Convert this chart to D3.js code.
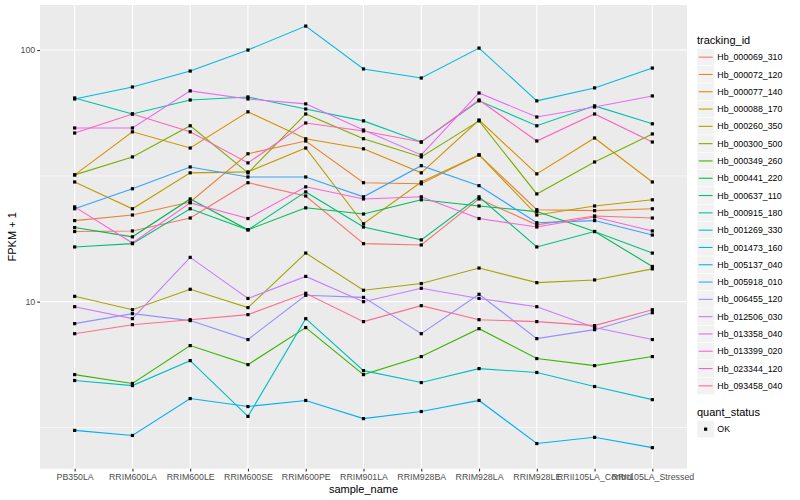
<!DOCTYPE html>
<html>
<head>
<meta charset="utf-8">
<script src="https://cdn.jsdelivr.net/npm/d3@7"></script>
<style>
  body { margin: 0; background: #fff; }
  text { font-family: "Liberation Sans", Arial, sans-serif; }
</style>
</head>
<body>
<svg id="chart" width="800" height="500"></svg>
<script>
// samples along the x axis
const samples = ["PB350LA", "RRIM600LA", "RRIM600LE", "RRIM600SE", "RRIM600PE", "RRIM901LA",
  "RRIM928BA", "RRIM928LA", "RRIM928LE", "RRII105LA_Control", "RRII105LA_Stressed"];

const trackingIds = ["Hb_000069_310", "Hb_000072_120", "Hb_000077_140", "Hb_000088_170", "Hb_000260_350",
  "Hb_000300_500", "Hb_000349_260", "Hb_000441_220", "Hb_000637_110", "Hb_000915_180",
  "Hb_001269_330", "Hb_001473_160", "Hb_005137_040", "Hb_005918_010", "Hb_006455_120",
  "Hb_012506_030", "Hb_013358_040", "Hb_013399_020", "Hb_023344_120", "Hb_093458_040"];

// FPKM + 1, one array per gene, in sample order
const hb000069_310 = [19.0, 19.1, 21.5, 29.7, 26.3, 17.0, 16.8, 25.6, 20.2, 21.9, 21.5];
const hb000072_120 = [21.0, 22.1, 24.9, 38.7, 43.5, 29.7, 29.4, 38.3, 23.2, 23.0, 23.4];
const hb000077_140 = [31.9, 47.3, 40.8, 56.8, 44.4, 40.5, 32.5, 52.7, 32.2, 44.7, 29.9];
const hb000088_170 = [29.9, 23.4, 32.5, 32.8, 40.8, 20.4, 29.9, 38.3, 22.1, 24.0, 25.4];
const hb000260_350 = [10.5, 9.29, 11.2, 9.47, 15.6, 11.1, 11.8, 13.6, 11.9, 12.2, 13.5];
const hb000300_500 = [31.9, 37.6, 50.0, 32.5, 55.7, 44.4, 37.6, 52.3, 26.8, 35.9, 46.4];
const hb000349_260 = [5.13, 4.73, 6.69, 5.62, 7.89, 5.13, 6.05, 7.81, 5.94, 5.57, 6.05];
const hb000441_220 = [19.7, 18.1, 25.6, 19.3, 23.6, 22.3, 25.4, 24.0, 22.8, 19.0, 13.8];
const hb000637_110 = [16.5, 17.0, 23.4, 19.3, 27.3, 19.8, 17.6, 26.1, 16.5, 19.0, 15.6];
const hb000915_180 = [64.5, 55.7, 63.3, 65.1, 58.3, 52.3, 43.1, 62.8, 50.0, 60.0, 50.9];
const hb001269_330 = [4.86, 4.64, 5.83, 3.50, 8.56, 5.32, 4.77, 5.42, 5.23, 4.60, 4.08];
const hb001473_160 = [63.9, 71.3, 82.5, 100, 124.5, 84.1, 77.4, 101.8, 62.8, 70.7, 84.8];
const hb005137_040 = [3.08, 2.94, 4.12, 3.83, 4.05, 3.43, 3.66, 4.05, 2.73, 2.89, 2.63];
const hb005918_010 = [23.4, 28.1, 34.3, 31.3, 31.3, 26.1, 34.7, 28.9, 20.6, 21.0, 18.4];
const hb006455_120 = [8.18, 8.96, 8.41, 7.07, 10.6, 10.4, 7.46, 10.7, 7.13, 7.74, 9.04];
const hb012506_030 = [9.55, 8.56, 15.0, 10.3, 12.6, 10.0, 11.3, 10.3, 9.55, 7.89, 7.07];
const hb013358_040 = [49.0, 49.0, 68.8, 63.9, 61.1, 48.1, 38.3, 67.5, 54.2, 59.4, 65.7];
const hb013399_020 = [23.8, 17.1, 24.7, 21.4, 28.6, 25.6, 26.1, 21.4, 19.8, 21.7, 19.1];
const hb023344_120 = [46.8, 55.7, 47.3, 35.6, 51.3, 47.7, 43.1, 63.3, 43.5, 55.7, 43.1];
const hb093458_040 = [7.46, 8.10, 8.48, 8.88, 10.8, 8.33, 9.64, 8.48, 8.33, 8.03, 9.29];

const seriesValues = [hb000069_310, hb000072_120, hb000077_140, hb000088_170, hb000260_350,
  hb000300_500, hb000349_260, hb000441_220, hb000637_110, hb000915_180,
  hb001269_330, hb001473_160, hb005137_040, hb005918_010, hb006455_120,
  hb012506_030, hb013358_040, hb013399_020, hb023344_120, hb093458_040];

const yTickValues = [10, 100];
const yMinorValues = [Math.sqrt(10), Math.sqrt(1000)];

// ggplot2 default hue palette for 20 levels
const colors = ["#F8766D", "#EA8331", "#D89000", "#C09B00", "#A3A500", "#7CAE00", "#39B600", "#00BB4E",
  "#00BF7D", "#00C1A3", "#00BFC4", "#00BAE0", "#00B0F6", "#35A2FF", "#9590FF", "#C77CFF",
  "#E76BF3", "#FA62DB", "#FF62BC", "#FF6C91"];

const series = trackingIds.map((id, i) => ({
  id,
  color: colors[i],
  values: seriesValues[i].map((v, j) => ({ sample: samples[j], v }))
}));

const panel = { left: 40, right: 687, top: 5, bottom: 468.7 };
const svg = d3.select("#chart");

const x = d3.scalePoint()
  .domain(samples)
  .range([panel.left, panel.right])
  .padding(0.6);

const all = seriesValues.flat();
const lo = Math.log10(d3.min(all)), hi = Math.log10(d3.max(all));
const pad = (hi - lo) * 0.05;
const y = d3.scaleLog()
  .domain([Math.pow(10, lo - pad), Math.pow(10, hi + pad)])
  .range([panel.bottom, panel.top]);

// panel background and grid
svg.append("rect")
  .attr("x", panel.left).attr("y", panel.top)
  .attr("width", panel.right - panel.left).attr("height", panel.bottom - panel.top)
  .attr("fill", "#EBEBEB");

svg.append("g").selectAll("line").data(yMinorValues).join("line")
  .attr("x1", panel.left).attr("x2", panel.right)
  .attr("y1", d => y(d)).attr("y2", d => y(d))
  .attr("stroke", "#fff").attr("stroke-width", 0.55);

svg.append("g").selectAll("line").data(yTickValues).join("line")
  .attr("x1", panel.left).attr("x2", panel.right)
  .attr("y1", d => y(d)).attr("y2", d => y(d))
  .attr("stroke", "#fff").attr("stroke-width", 1.1);

svg.append("g").selectAll("line").data(samples).join("line")
  .attr("x1", d => x(d)).attr("x2", d => x(d))
  .attr("y1", panel.top).attr("y2", panel.bottom)
  .attr("stroke", "#fff").attr("stroke-width", 1.1);

// lines and points
const line = d3.line().x(d => x(d.sample)).y(d => y(d.v));

svg.append("g").selectAll("path").data(series).join("path")
  .attr("d", d => line(d.values))
  .attr("fill", "none")
  .attr("stroke", d => d.color)
  .attr("stroke-width", 1.1);

svg.append("g").selectAll("rect").data(series.flatMap(s => s.values)).join("rect")
  .attr("x", d => x(d.sample) - 1.6)
  .attr("y", d => y(d.v) - 1.6)
  .attr("width", 3.2).attr("height", 3.2)
  .attr("fill", "#000");

// axes
const xAxis = svg.append("g")
  .attr("transform", `translate(0,${panel.bottom})`)
  .call(d3.axisBottom(x).tickSize(2.75).tickPadding(2));
const yAxis = svg.append("g")
  .attr("transform", `translate(${panel.left},0)`)
  .call(d3.axisLeft(y).tickValues(yTickValues).tickFormat(d3.format("d")).tickSize(2.75).tickPadding(2));

[xAxis, yAxis].forEach(a => {
  a.select(".domain").remove();
  a.selectAll(".tick line").attr("stroke", "#333333").attr("stroke-width", 1.1);
  a.selectAll(".tick text").attr("fill", "#4D4D4D").style("font-size", "8.8px")
    .style("font-family", "'Liberation Sans', Arial, sans-serif");
});

svg.append("text")
  .attr("x", (panel.left + panel.right) / 2).attr("y", 493)
  .attr("text-anchor", "middle").style("font-size", "11px")
  .text("sample_name");

svg.append("text")
  .attr("transform", `translate(16,${(panel.top + panel.bottom) / 2}) rotate(-90)`)
  .attr("text-anchor", "middle").style("font-size", "11px")
  .text("FPKM + 1");

// legend: tracking_id
const legX = 697, keySize = 17.3;
svg.append("text").attr("x", legX).attr("y", 44).style("font-size", "11px").text("tracking_id");

const leg = svg.append("g").selectAll("g").data(series).join("g")
  .attr("transform", (d, i) => `translate(${legX},${48.5 + i * keySize})`);
leg.append("rect").attr("width", keySize).attr("height", keySize)
  .attr("fill", "#F2F2F2").attr("stroke", "#fff").attr("stroke-width", 0.5);
leg.append("line")
  .attr("x1", 1.7).attr("x2", keySize - 1.7)
  .attr("y1", keySize / 2).attr("y2", keySize / 2)
  .attr("stroke", d => d.color).attr("stroke-width", 1.1);
leg.append("text")
  .attr("x", keySize + 3).attr("y", keySize / 2 + 3.1)
  .style("font-size", "8.8px").text(d => d.id);

// legend: quant_status
svg.append("text").attr("x", legX).attr("y", 416).style("font-size", "11px").text("quant_status");
const q = svg.append("g").attr("transform", `translate(${legX},420.5)`);
q.append("rect").attr("width", keySize).attr("height", keySize)
  .attr("fill", "#F2F2F2").attr("stroke", "#fff").attr("stroke-width", 0.5);
q.append("rect").attr("x", keySize / 2 - 1.6).attr("y", keySize / 2 - 1.6)
  .attr("width", 3.2).attr("height", 3.2).attr("fill", "#000");
q.append("text").attr("x", keySize + 3).attr("y", keySize / 2 + 3.1)
  .style("font-size", "8.8px").text("OK");
</script>
</body>
</html>
